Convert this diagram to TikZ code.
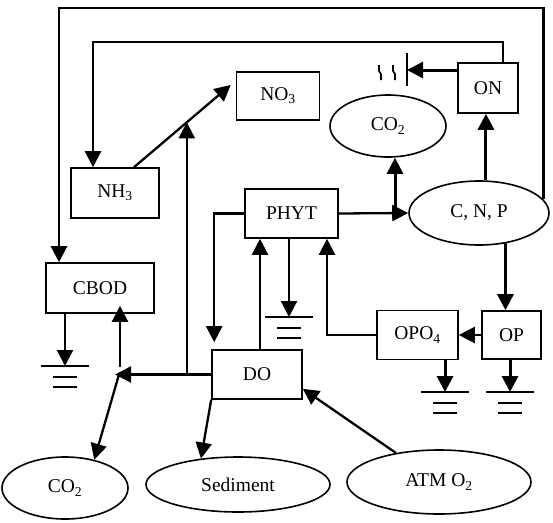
\documentclass[tikz,border=0pt]{standalone}
\usepackage{fontspec}
\setmainfont{Liberation Serif}
\usetikzlibrary{arrows.meta,shapes.geometric}
\begin{document}
\begin{tikzpicture}[x=1pt, y=-1pt, line width=2.3pt, >={Triangle[length=16pt,width=16pt]},
    every node/.style={draw, line width=1.6pt, inner sep=0pt, font=\fontsize{19.5}{22}\selectfont},
    box/.style 2 args={rectangle, minimum width=#1, minimum height=#2},
    oval/.style 2 args={ellipse, minimum width=#1, minimum height=#2},
    heavy/.style={line width=3pt},
    sink/.pic={\draw (-24,0) -- (24,0); \draw (-12,11) -- (12,11); \draw (-12,21) -- (12,21);}]
\useasboundingbox (0,0) rectangle (553,522);
% boxes
\node[box={83pt}{48pt}] (no3) at (278,96) {NO\textsubscript{3}};
\node[box={88pt}{50pt}] (nh3) at (115,193) {NH\textsubscript{3}};
\node[box={108pt}{50pt}] (cbod) at (100,288) {CBOD};
\node[box={93pt}{49pt}] (phyt) at (291.5,213.5) {PHYT};
\node[box={90pt}{49pt}] (do) at (257,374.5) {DO};
\node[box={60pt}{50pt}] (on) at (488,88) {ON};
\node[box={59pt}{48pt}] (op) at (511.5,335) {OP};
\node[box={81pt}{49pt}] (opo4) at (417.5,335) {OPO\textsubscript{4}};
% ovals
\node[oval={116pt}{62pt}] (co2t) at (388,126) {CO\textsubscript{2}};
\node[oval={140pt}{64pt}] (cnp) at (479,213) {C, N, P};
\node[oval={126pt}{62pt}] (co2b) at (65,488) {CO\textsubscript{2}};
\node[oval={184pt}{55pt}] (sed) at (238,484.5) {Sediment};
\node[oval={184pt}{64pt}] (atm) at (439,482) {ATM O\textsubscript{2}};
% sinks
\coordinate (sc) at (65,366);
\coordinate (sp) at (289,317);
\coordinate (so4) at (445,392);
\coordinate (sop) at (510,392);
\foreach \s in {sc,sp,so4,sop} {
    \pic at (\s) {sink};
}
\draw[->] (cbod.south -| sc) -- (sc);
\draw[->] (phyt.south -| sp) -- (sp);
\draw[->, heavy] (opo4.south -| so4) -- (so4);
\draw[->, heavy] (op.south -| sop) -- (sop);
% loops over the top
\coordinate (tl) at (59,8);
\coordinate (il) at (93,42);
\draw[->] (cnp.12) |- (tl) -- (tl |- cbod.north);
\draw[->] ([xshift=15pt]on.north) |- (il) -- (il |- nh3.north);
% ON loss
\coordinate (bar) at (407,70);
\draw[->, heavy] ([yshift=18pt]on.west) -- (bar);
\draw (bar) ++(0,-17) -- ++(0,33);
\foreach \x in {379,393} {
    \draw[line width=1.6pt] (\x,65) -- (\x,71) -- (\x+2,74) -- (\x+2,80);
}
% nitrification
\draw[->] ([xshift=19pt]nh3.north) -- coordinate[pos=0.546] (dg) ([shift={(-5,-11)}]no3.west);
% DO links
\coordinate (jn) at (115,374.5);
\draw[->] (do.west) -- (jn);
\draw[->] (dg |- jn) -- (dg);
\draw[->] ([shift={(5,-8)}]jn) -- ([shift={(5,-8)}]jn |- cbod.south);
\draw[->] ([xshift=4pt]jn) -- (co2b.44);
\draw[->] (do.south west) -- (sed.145);
\draw[->] (atm.146) -- ([shift={(0,-11)}]do.south east);
\draw[->] ([xshift=3pt]do.north) -- ([xshift=3pt]do.north |- phyt.south);
\draw[->] (phyt.west) -| ([shift={(3,-7)}]do.north west);
% phytoplankton and nutrients
\draw[->] (phyt.east) -- (cnp.west);
\draw[->, heavy] ([xshift=7pt]co2t.south |- phyt.east) -- ([xshift=7pt]co2t.south);
\draw[->, heavy] (cnp.78) -- (cnp.78 |- on.south);
\draw[->, heavy] (cnp.-49) -- (cnp.-49 |- op.north);
\draw[->] (op.west) -- (opo4.east);
\draw[->] (opo4.west) -| ([xshift=35.5pt]phyt.south);
\end{tikzpicture}
\end{document}
